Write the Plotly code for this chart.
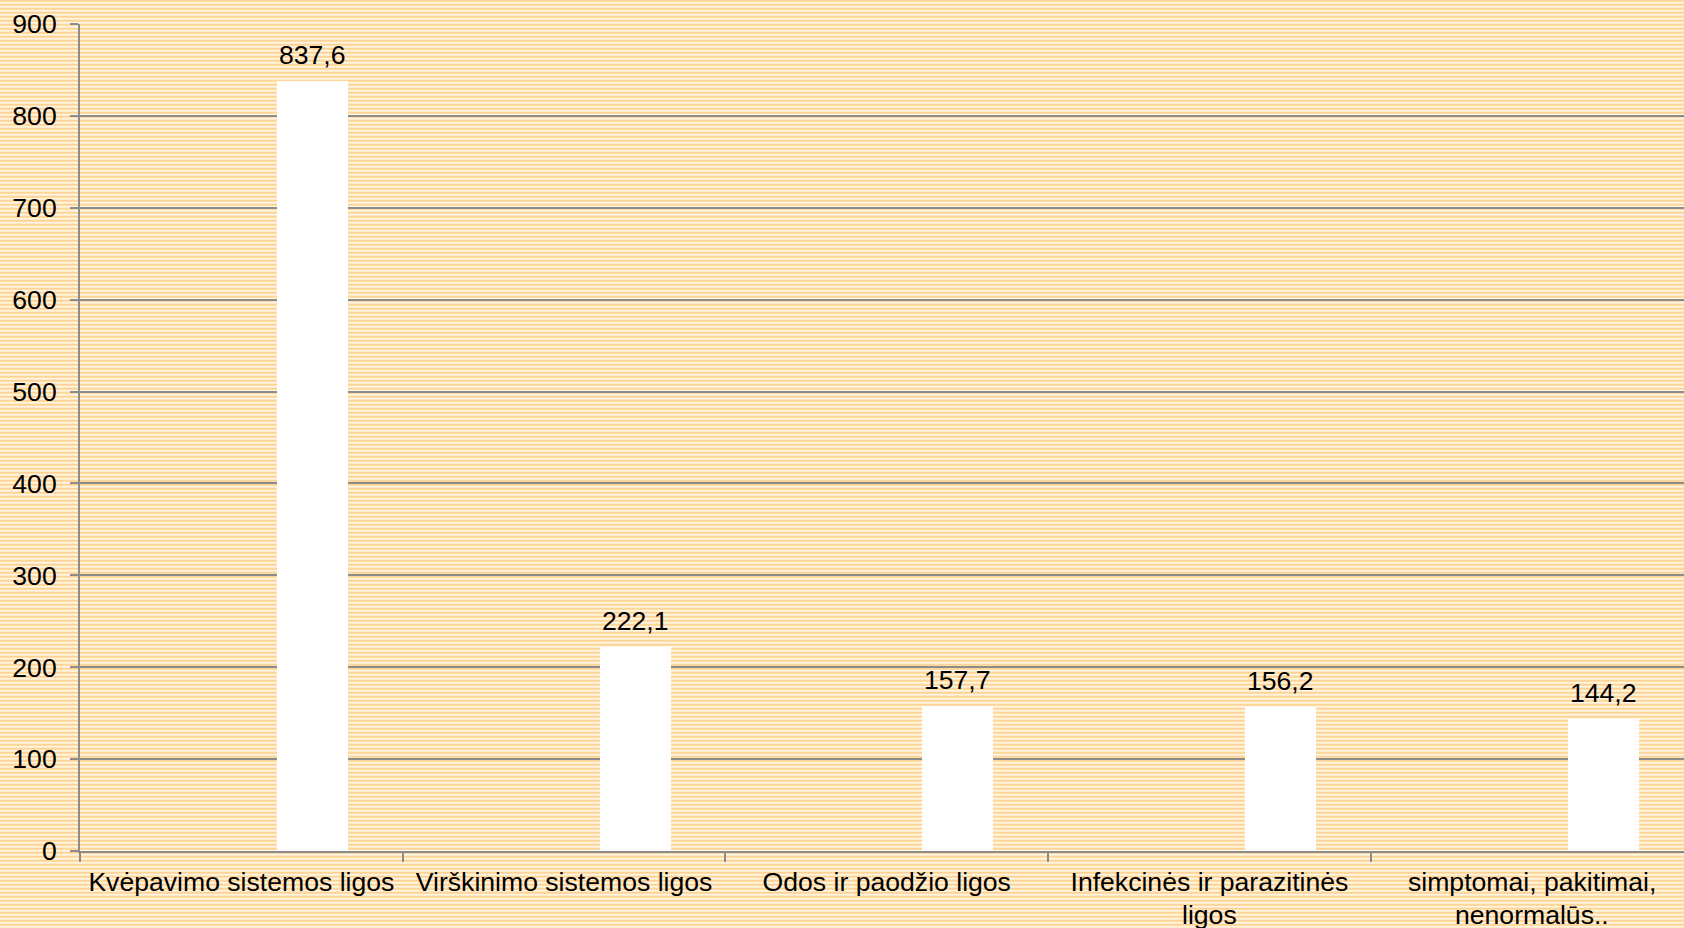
import base64
import plotly.graph_objects as go

# chart data
categories = [
    "Kvėpavimo sistemos ligos",
    "Virškinimo sistemos ligos",
    "Odos ir paodžio ligos",
    "Infekcinės ir parazitinės\nligos",
    "simptomai, pakitimai,\nnenormalūs..",
]
values = [837.6, 222.1, 157.7, 156.2, 144.2]
y_ticks = [0, 100, 200, 300, 400, 500, 600, 700, 800, 900]

W, H = 1684, 928
L, R, T, B = 80, 0, 24, 77
PW, PH = W - L - R, H - T - B

FONT = "Liberation Sans, Arial, sans-serif"
FS = 26.6
GRID = "#8c8c8c"

# striped background like the office chart fill
svg = (
    "<svg xmlns='http://www.w3.org/2000/svg' width='%d' height='%d'>"
    "<defs><pattern id='p' width='4' height='4' patternUnits='userSpaceOnUse'>"
    "<rect x='0' y='0' width='4' height='1' fill='#FDD596'/>"
    "<rect x='0' y='1' width='4' height='1' fill='#FEDBA5'/>"
    "<rect x='0' y='2' width='4' height='1' fill='#FFF7EA'/>"
    "<rect x='0' y='3' width='4' height='1' fill='#FFE8C4'/>"
    "</pattern></defs><rect width='100%%' height='100%%' fill='url(#p)'/></svg>"
) % (W, H)
bg_src = "data:image/svg+xml;base64," + base64.b64encode(svg.encode()).decode()

keys = [c.replace("\n", " ") for c in categories]
first_lines = [c.split("\n")[0] for c in categories]

fig = go.Figure()
fig.add_trace(go.Bar(
    x=keys, y=values,
    offset=0.11, width=0.22,
    marker=dict(color="white", line=dict(width=0)),
    hoverinfo="x+y",
))

# value labels above bars
for i, v in enumerate(values):
    fig.add_annotation(
        x=i + 0.22, y=v, xref="x", yref="y",
        text=("%.1f" % v).replace(".", ","),
        showarrow=False, yanchor="bottom", yshift=9,
        font=dict(family=FONT, size=FS, color="black"),
    )

# second line of wrapped category labels (tighter spacing than plotly's <br>)
for k, c in zip(keys, categories):
    parts = c.split("\n")
    if len(parts) > 1:
        fig.add_annotation(
            x=k, y=0, xref="x", yref="paper",
            text=parts[1], showarrow=False,
            yanchor="middle", yshift=-64,
            font=dict(family=FONT, size=FS, color="black"),
        )

fig.add_layout_image(dict(
    source=bg_src, xref="paper", yref="paper",
    x=-L / PW, y=1 + T / PH, sizex=W / PW, sizey=H / PH,
    xanchor="left", yanchor="top", sizing="stretch", layer="below",
))

fig.update_layout(
    width=W, height=H,
    margin=dict(l=L, r=R, t=T, b=B, pad=0),
    paper_bgcolor="#FEE6BF",
    plot_bgcolor="rgba(0,0,0,0)",
    showlegend=False,
    bargap=0,
    font=dict(family=FONT, size=FS, color="black"),
)
fig.update_xaxes(
    type="category", automargin=False,
    range=[-0.5, -0.5 + PW / 322.7],
    tickvals=keys, ticktext=first_lines,
    showline=True, linecolor=GRID, linewidth=2,
    ticks="outside", tickson="boundaries", ticklen=9, tickcolor=GRID, tickwidth=2,
    showgrid=False, ticklabelstandoff=6,
    tickfont=dict(family=FONT, size=FS, color="black"),
)
fig.update_yaxes(
    range=[0, 900], tickvals=y_ticks, automargin=False,
    showline=True, linecolor=GRID, linewidth=2,
    ticks="outside", ticklen=8, tickcolor=GRID, tickwidth=2,
    showgrid=True, gridcolor=GRID, gridwidth=2,
    zeroline=False, ticklabelstandoff=8,
    tickfont=dict(family=FONT, size=FS, color="black"),
)

fig.write_html("out.html", config={"displayModeBar": False},
               post_script="document.body.style.margin='0';")
